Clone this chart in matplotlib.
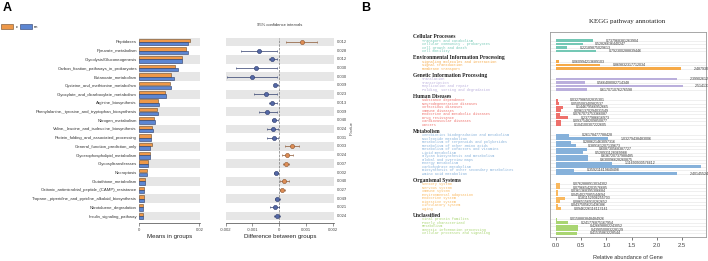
#Two panel figure: A = extended error bar plot (groups c vs m), B = KEGG pathway annotation
import matplotlib
matplotlib.use('Agg')
import matplotlib.pyplot as plt
from matplotlib.patches import Rectangle
from matplotlib.transforms import blended_transform_factory
import numpy as np

plt.rcParams['font.family'] = 'Liberation Sans'

#Panel A data
pathways = ['Peptidases', 'Pyruvate_metabolism', 'Glycolysis/Gluconeogenesis',
            'Carbon_fixation_pathways_in_prokaryotes', 'Butanoate_metabolism',
            'Cysteine_and_methionine_metabolism', 'Glyoxylate_and_dicarboxylate_metabolism',
            'Arginine_biosynthesis', 'Phenylalanine,_tyrosine_and_tryptophan_biosynthesis',
            'Nitrogen_metabolism', 'Valine,_leucine_and_isoleucine_biosynthesis',
            'Protein_folding_and_associated_processing', 'General_function_prediction_only',
            'Glycerophospholipid_metabolism', 'Glycosyltransferases', 'Necroptosis',
            'Glutathione_metabolism', 'Cationic_antimicrobial_peptide_(CAMP)_resistance',
            'Tropane,_piperidine_and_pyridine_alkaloid_biosynthesis',
            'Nitrotoluene_degradation', 'Insulin_signaling_pathway']
mean_c = [0.0170, 0.0156, 0.0143, 0.0120, 0.0106, 0.0103, 0.0086, 0.0062, 0.0059, 0.0050, 0.0044,
          0.0040, 0.0042, 0.0037, 0.0031, 0.0027, 0.0019, 0.0016, 0.0015, 0.0013, 0.0012]
mean_m = [0.0162, 0.0162, 0.0142, 0.0128, 0.0117, 0.0106, 0.0089, 0.0066, 0.0062, 0.0052, 0.0048,
          0.0041, 0.0037, 0.0035, 0.0031, 0.0028, 0.0019, 0.0016, 0.0016, 0.0013, 0.0013]
diff = [0.00084, -0.00076, -0.00025, -0.00085, -0.00103, -0.00014, -0.00050, -0.00025, -0.00044,
        -0.00019, -0.00022, -0.00020, 0.00049, 0.00030, 0.00025, -0.00012, 0.00019, 0.00011,
        -0.00007, -0.00017, -0.00009]
ci_low = [0.00025, -0.00143, -0.00037, -0.00160, -0.00197, -0.00020, -0.00095, -0.00038, -0.00075,
          -0.00026, -0.00045, -0.00045, 0.00022, 0.00010, 0.00013, -0.00020, 0.00003, 0.00003,
          -0.00017, -0.00035, -0.00018]
ci_high = [0.00140, -0.00007, -0.00010, -0.00007, -0.00007, -0.00006, -0.00007, -0.00010, -0.00010,
           -0.00005, -0.00004, -0.00004, 0.00075, 0.00052, 0.00037, -0.00005, 0.00037, 0.00021,
           0.00003, -0.00002, 0.00002]
pvals = ['0.012', '0.028', '0.012', '0.030', '0.030', '0.009', '0.023', '0.013', '0.009', '0.040',
         '0.024', '0.031', '0.003', '0.024', '0.007', '0.002', '0.040', '0.027', '0.049', '0.021',
         '0.024']
group_names = ['c', 'm']

#Panel B data (level 1 groups and their level 2 entries)
level1 = ['Cellular Processes', 'Environmental Information Processing',
          'Genetic Information Processing', 'Human Diseases', 'Metabolism',
          'Organismal Systems', 'Unclassified']
cell_names = ['Transport and catabolism', 'Cellular community - prokaryotes',
              'Cell growth and death', 'Cell motility']
cell_vals = [0.737968381263904, 0.528266364402470, 0.221898750296130, 0.792300288839446]
env_names = ['Signaling molecules and interaction', 'Signal transduction', 'Membrane transport']
env_vals = [0.0609942136891030, 0.869832317712034, 2.48793015364417]
gen_names = ['Translation', 'Transcription', 'Replication and repair',
             'Folding, sorting and degradation']
gen_vals = [2.39902612877438, 0.566408082714348, 2.51413362190257, 0.617071076276598]
hum_names = ['Substance dependence', 'Neurodegenerative diseases', 'Infectious diseases',
             'Immune diseases', 'Endocrine and metabolic diseases', 'Drug resistance',
             'Cardiovascular diseases', 'Cancers']
hum_vals = [0.0327986502835301, 0.0505083409825370, 0.144679566952665, 0.0961370294031549,
            0.0767073753366087, 0.237798661697300, 0.0937548209850877, 0.104100307222605]
met_names = ['Xenobiotics biodegradation and metabolism', 'Nucleotide metabolism',
             'Metabolism of terpenoids and polyketides', 'Metabolism of other amino acids',
             'Metabolism of cofactors and vitamins', 'Lipid metabolism',
             'Glycan biosynthesis and metabolism', 'Global and overview maps',
             'Energy metabolism', 'Carbohydrate metabolism',
             'Biosynthesis of other secondary metabolites', 'Amino acid metabolism']
met_vals = [0.261784777884280, 1.03279438483006, 0.288621463097316, 0.389161207139673,
            0.608730568387727, 0.528931128369988, 0.636720737988485, 0.630096628260875,
            1.11690930576612, 2.88174036529180, 0.359211619849498, 2.40145524107453]
org_names = ['Sensory system', 'Nervous system', 'Immune system', 'Environmental adaptation',
             'Endocrine system', 'Digestive system', 'Circulatory system', 'Aging']
org_vals = [0.0762888913034302, 0.0796654203576685, 0.0361368395306684, 0.0454027085544694,
            0.181152906255703, 0.0865156910262652, 0.0437505621436386, 0.0946226116113141]
unc_names = ['Viral protein families', 'Poorly characterized', 'Metabolism',
             'Genetic information processing', 'Cellular processes and signaling']
unc_vals = [0.0158883848484926, 0.241776875167954, 0.426698802243052, 0.439050083228129,
            0.415358632285440]

W, H = 708.0, 261.0
def px_box(x0, y0, x1, y1):
    return [x0 / W, 1 - y1 / H, (x1 - x0) / W, (y1 - y0) / H]

fig = plt.figure(figsize=(7.08, 2.61), dpi=100)

col_c = '#EE9848'
col_m = '#5C86D2'
stripe = '#E6E6E6'
y = np.arange(len(pathways))

#----- Panel A, left: means in groups
axA = fig.add_axes(px_box(139, 37.6, 200, 223))
for i in y[::2]:
    axA.axhspan(i - 0.5, i + 0.5, color=stripe, lw=0, zorder=0)
axA.barh(y - 0.2, mean_c, height=0.38, color=col_c, edgecolor='#6b4a2a', lw=0.4, zorder=2)
axA.barh(y + 0.2, mean_m, height=0.38, color=col_m, edgecolor='#2a3a66', lw=0.4, zorder=2)
axA.set_xlim(0, 0.0202)
axA.set_ylim(20.8, -0.5)
axA.set_yticks(y)
axA.set_yticklabels(pathways, fontsize=3.1, color='#333333')
axA.tick_params(axis='y', length=0, pad=1.5)
axA.set_xticks([0, 0.02])
axA.set_xticklabels(['0', '0.02'])
axA.tick_params(axis='x', labelsize=3, length=1.8, width=0.4, pad=1.5, colors='#444444')
for s in ['top', 'right', 'left']:
    axA.spines[s].set_visible(False)
axA.spines['bottom'].set_linewidth(0.5)
axA.spines['bottom'].set_color('#444444')
axA.set_xlabel('Means in groups', fontsize=4.4, labelpad=2, color='#222222')

#----- Panel A, right: difference with 95% CI
axD = fig.add_axes(px_box(225.7, 37.6, 334, 223))
for i in y[::2]:
    axD.axhspan(i - 0.5, i + 0.5, color=stripe, lw=0, zorder=0)
axD.axvline(0, color='#777777', ls='--', lw=0.5, zorder=1)
d = np.array(diff)
lo = np.array(ci_low)
hi = np.array(ci_high)
for mask, fc, ec in [(d > 0, '#DE8D55', '#8a5530'), (d <= 0, '#5468A6', '#2c3a6a')]:
    axD.errorbar(d[mask], y[mask], xerr=[d[mask] - lo[mask], hi[mask] - d[mask]], fmt='o',
                 ms=3, mfc=fc, mec=ec, mew=0.4, ecolor=ec, elinewidth=0.5, capsize=1,
                 capthick=0.5, zorder=3)
axD.set_xlim(-0.002, 0.00205)
axD.set_ylim(20.8, -0.5)
axD.set_yticks([])
axD.set_xticks([-0.002, -0.001, 0, 0.001, 0.002])
axD.set_xticklabels(['-0.002', '-0.001', '0', '0.001', '0.002'])
axD.tick_params(axis='x', labelsize=3, length=1.8, width=0.4, pad=1.5, colors='#444444')
for s in ['top', 'right', 'left']:
    axD.spines[s].set_visible(False)
axD.spines['bottom'].set_linewidth(0.5)
axD.spines['bottom'].set_color('#444444')
axD.set_xlabel('Difference between groups', fontsize=4.4, labelpad=2, color='#222222')
axD.set_title('95% confidence intervals', fontsize=3, pad=8, color='#333333')
for i, p in enumerate(pvals):
    axD.text(0.00215, i, p, fontsize=3, va='center', ha='left', color='#444444')
fig.text(352 / W, 1 - 128 / H, 'P-value', rotation=90, fontsize=3, ha='center', va='center',
         color='#444444')

#legend and panel letter
fig.text(7 / W, 1 - 8 / H, 'A', fontsize=9, fontweight='bold', ha='center', va='center')
fig.patches.append(Rectangle((1 / W, 1 - 29 / H), 12 / W, 5 / H, transform=fig.transFigure,
                             facecolor=col_c, edgecolor='#6b4a2a', lw=0.4))
fig.text(15.5 / W, 1 - 27 / H, group_names[0], fontsize=3, va='center')
fig.patches.append(Rectangle((20 / W, 1 - 29 / H), 12 / W, 5 / H, transform=fig.transFigure,
                             facecolor=col_m, edgecolor='#2a3a66', lw=0.4))
fig.text(34 / W, 1 - 27 / H, group_names[1], fontsize=3, va='center')

#----- Panel B: KEGG annotation
fig.text(366 / W, 1 - 8 / H, 'B', fontsize=9, fontweight='bold', ha='center', va='center')
axB = fig.add_axes(px_box(550, 32.3, 706, 237.3))
axB.set_xlim(-0.12, 2.98)
axB.set_ylim(56.15, -2.35)
sub_names = [cell_names, env_names, gen_names, hum_names, met_names, org_names, unc_names]
sub_vals = [cell_vals, env_vals, gen_vals, hum_vals, met_vals, org_vals, unc_vals]
colors = ['#74C8B5', '#F6AA48', '#BAAFDC', '#EE706B', '#86B1DA', '#F9B85E', '#A9D572']
trans = blended_transform_factory(fig.transFigure, axB.transData)
row = 0
for name, names, vals, c in zip(level1, sub_names, sub_vals, colors):
    rows = np.arange(row, row + len(vals))
    axB.hlines(rows, -0.12, 2.98, color='#E4E4E4', lw=0.4, zorder=1)
    axB.barh(rows, vals, height=0.8, color=c, zorder=2)
    for r, v in zip(rows, vals):
        axB.text(v + 0.25, r, '{:.15g}'.format(v), fontsize=2.6, va='center', ha='left',
                 color='#333333')
    axB.text(413.3 / W, row - 1.15, name, transform=trans, fontsize=4, fontweight='bold',
             family='Liberation Serif', va='center', ha='left', color='#222222')
    for r, n in zip(rows, names):
        axB.text(421.7 / W, r, n, transform=trans, fontsize=2.6, family='Liberation Mono',
                 va='center', ha='left', color=c)
    row += len(vals) + 2
axB.set_yticks([])
axB.set_xticks([0, 0.5, 1.0, 1.5, 2.0, 2.5])
axB.tick_params(axis='x', labelsize=4.2, length=2, width=0.5, pad=2, colors='#444444')
for s in axB.spines.values():
    s.set_color('#999999')
    s.set_linewidth(0.6)
axB.set_xlabel('Relative abundance of Gene', fontsize=4, labelpad=5, color='#333333')
fig.text(627 / W, 1 - 21 / H, 'KEGG pathway annotation', fontsize=5, family='Liberation Serif',
         ha='center', va='center', color='#222222')

fig.savefig('out.png', dpi=100)
